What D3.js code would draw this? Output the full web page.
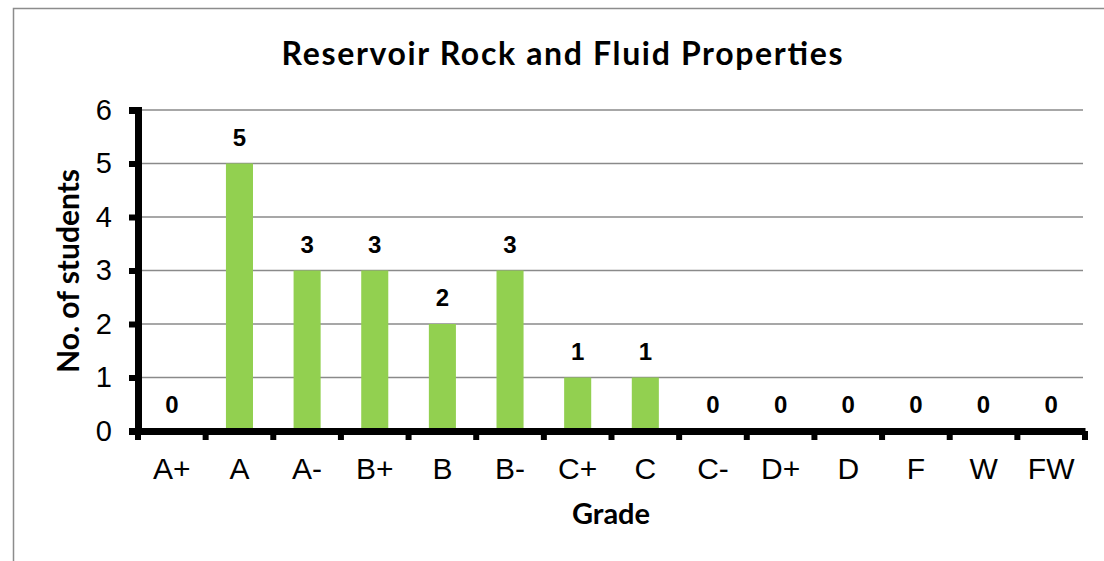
<!DOCTYPE html>
<html>
<head>
<meta charset="utf-8">
<script src="https://cdn.jsdelivr.net/npm/d3@7"></script>
<style>
  body { margin: 0; background: #fff; }
</style>
</head>
<body>
<div id="chartArea"></div>
<script>
var grades = ["A+", "A", "A-", "B+", "B", "B-", "C+", "C", "C-", "D+", "D", "F", "W", "FW"];
var students = [0, 5, 3, 3, 2, 3, 1, 1, 0, 0, 0, 0, 0, 0];
var yTicks = [0, 1, 2, 3, 4, 5, 6];

var data = grades.map(function (g, i) { return { grade: g, count: students[i] }; });

var W = 1104, H = 561;
var plotLeft = 138, plotRight = 1085, plotTop = 110, plotBottom = 431;

var svg = d3.select("#chartArea").append("svg")
  .attr("width", W)
  .attr("height", H);

// chart border (only left/top show in the frame)
svg.append("rect")
  .attr("x", 13.5).attr("y", 8.5)
  .attr("width", W + 20).attr("height", H + 20)
  .attr("fill", "none")
  .attr("stroke", "#8c8c8c")
  .attr("stroke-width", 1.5);

var x = d3.scaleBand()
  .domain(grades)
  .range([plotLeft, plotRight])
  .paddingInner(0.6)
  .paddingOuter(0.3);

var xBand = d3.scaleBand().domain(grades).range([plotLeft, plotRight]);

var y = d3.scaleLinear()
  .domain([0, 6])
  .range([plotBottom, plotTop]);

// gridlines
svg.append("g")
  .selectAll("line")
  .data(yTicks.filter(function (d) { return d > 0; }))
  .enter().append("line")
  .attr("x1", plotLeft).attr("x2", 1083)
  .attr("y1", function (d) { return y(d); })
  .attr("y2", function (d) { return y(d); })
  .attr("stroke", "#8a8a8a")
  .attr("stroke-width", 1.5);

// bars
svg.selectAll(".bar")
  .data(data)
  .enter().append("rect")
  .attr("class", "bar")
  .attr("x", function (d) { return x(d.grade); })
  .attr("width", x.bandwidth())
  .attr("y", function (d) { return y(d.count); })
  .attr("height", function (d) { return plotBottom - y(d.count); })
  .attr("fill", "#92d050");

// value labels
svg.selectAll(".val")
  .data(data)
  .enter().append("text")
  .attr("class", "val")
  .attr("x", function (d) { return x(d.grade) + x.bandwidth() / 2; })
  .attr("y", function (d) { return y(d.count) - 18; })
  .attr("text-anchor", "middle")
  .attr("font-family", "Liberation Sans, Arial, sans-serif")
  .attr("font-weight", "bold")
  .attr("font-size", 24)
  .text(function (d) { return d.count; });

// y axis
var yAxis = d3.axisLeft(y).tickValues(yTicks).tickFormat(d3.format("d")).tickSize(9).tickPadding(17);
var gy = svg.append("g")
  .attr("transform", "translate(" + plotLeft + ",0)")
  .call(yAxis);
gy.select(".domain").attr("stroke", "#000").attr("stroke-width", 7);
gy.selectAll(".tick line").attr("stroke", "#000").attr("stroke-width", 6);
gy.selectAll(".tick text")
  .attr("font-family", "Liberation Sans, Arial, sans-serif")
  .attr("font-size", 29)
  .attr("fill", "#000");

// x axis
var xAxis = d3.axisBottom(xBand).tickSize(0).tickPadding(27);
var gx = svg.append("g")
  .attr("transform", "translate(0," + plotBottom + ")")
  .call(xAxis);
gx.select(".domain").attr("stroke", "#000").attr("stroke-width", 7);
gx.selectAll(".tick text")
  .attr("font-family", "Liberation Sans, Arial, sans-serif")
  .attr("font-size", 30)
  .attr("fill", "#000");

// x tick marks at band boundaries
svg.append("g")
  .selectAll("line")
  .data(grades.concat(["end"]))
  .enter().append("line")
  .attr("x1", function (d, i) { return plotLeft + i * xBand.step(); })
  .attr("x2", function (d, i) { return plotLeft + i * xBand.step(); })
  .attr("y1", plotBottom)
  .attr("y2", plotBottom + 9)
  .attr("stroke", "#000")
  .attr("stroke-width", 6);

// title
svg.append("text")
  .attr("x", 562)
  .attr("y", 65)
  .attr("text-anchor", "middle")
  .attr("font-family", "Lato, Open Sans, sans-serif")
  .attr("font-weight", "bold")
  .attr("font-size", 32)
  .attr("textLength", 561)
  .attr("lengthAdjust", "spacing")
  .text("Reservoir Rock and Fluid Properties");

// axis titles
svg.append("text")
  .attr("x", 611)
  .attr("y", 524)
  .attr("text-anchor", "middle")
  .attr("font-family", "Lato, Open Sans, sans-serif")
  .attr("font-weight", "bold")
  .attr("font-size", 29)
  .text("Grade");

svg.append("text")
  .attr("transform", "rotate(-90)")
  .attr("x", -271)
  .attr("y", 79)
  .attr("text-anchor", "middle")
  .attr("font-family", "Lato, Open Sans, sans-serif")
  .attr("font-weight", "bold")
  .attr("font-size", 30)
  .text("No. of students");
</script>
</body>
</html>
